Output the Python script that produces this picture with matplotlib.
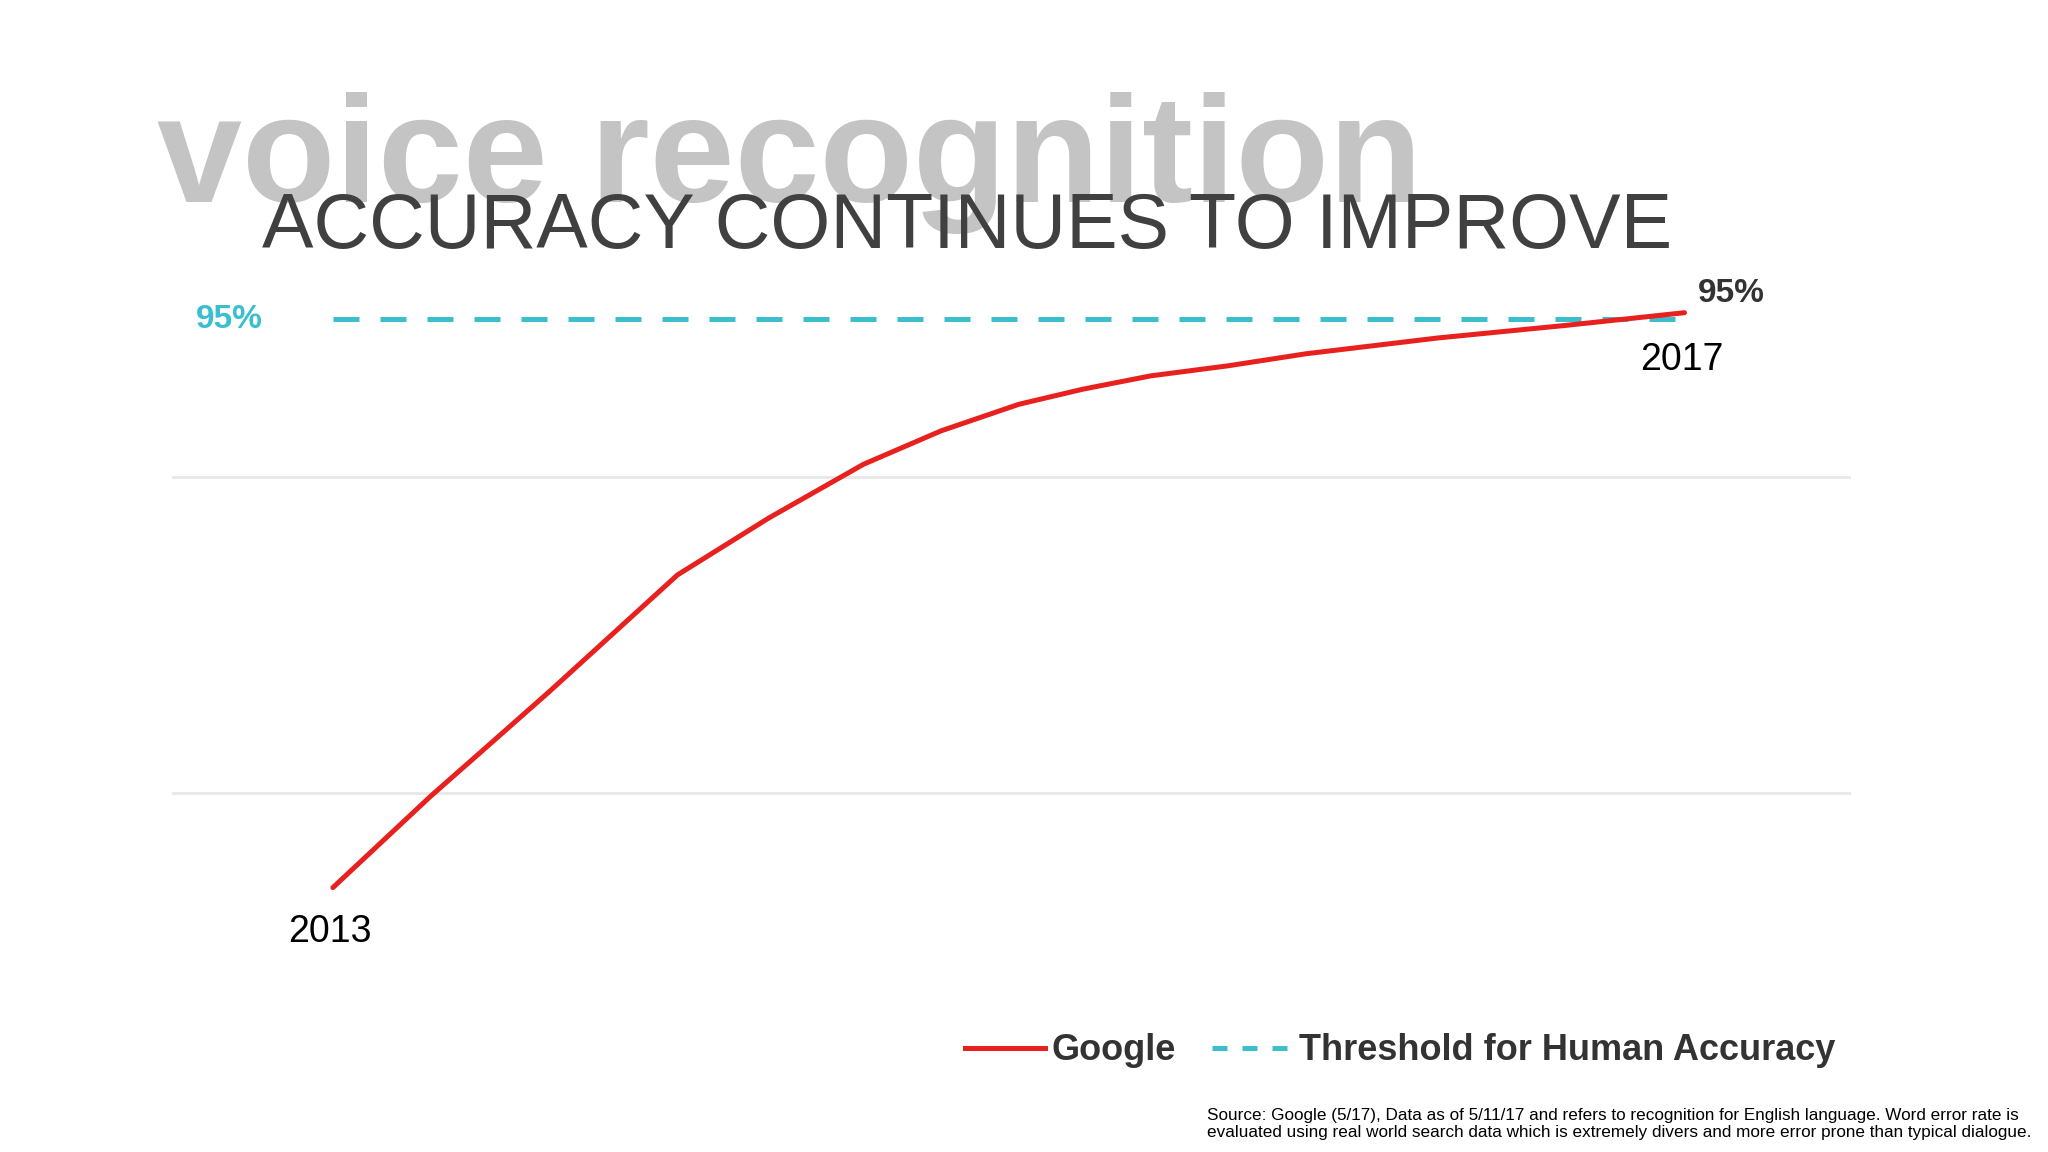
import matplotlib
matplotlib.use("Agg")
import matplotlib.pyplot as plt
from matplotlib.lines import Line2D

years = [2013.0, 2013.29, 2013.46, 2013.64, 2013.83, 2014.02, 2014.29, 2014.57, 2014.80,
         2015.03, 2015.22, 2015.42, 2015.65, 2015.88, 2016.27, 2016.65, 2017.0]
google_acc = [77.0, 79.9, 81.5, 83.2, 85.05, 86.9, 88.7, 90.4, 91.46,
              92.3, 92.78, 93.2, 93.52, 93.9, 94.4, 94.8, 95.2]
threshold_years = [2013, 2017]
threshold = [95, 95]
gridlines = [80, 90]

plt.rcParams['font.family'] = ['Liberation Sans', 'DejaVu Sans']
fig = plt.figure(figsize=(20.48, 11.52), dpi=100)
fig.patch.set_facecolor('white')
ax = fig.add_axes([0.084, 0.2188, 0.82, 0.538])
ax.set_xlim(2012.524, 2017.494)
ax.set_ylim(76.61, 96.23)
for g in gridlines:
    ax.axhline(g, color='#e8e8e8', lw=2, zorder=0)
ax.plot(threshold_years, threshold, color='#3bbfcf', lw=3.6, ls=(0, (5.2, 4.2)))
ax.plot(years, google_acc, color='#e8201e', lw=3.6, solid_capstyle='round', solid_joinstyle='round')
ax.axis('off')

fig.text(157/2048, 1 - 202/1152, 'voice recognition', fontsize=110, fontweight='bold', color='#c4c4c4')
fig.text(262/2048, 1 - 248/1152, 'ACCURACY CONTINUES TO IMPROVE', fontsize=55.5, color='#404040')
fig.text(196/2048, 1 - 319/1152, '95%', fontsize=24, fontweight='bold', color='#3bbfcf', va='center')
fig.text(1698/2048, 1 - 294/1152, '95%', fontsize=24, fontweight='bold', color='#333333', va='center')
fig.text(330/2048, 1 - 932/1152, '2013', fontsize=27, color='black', ha='center', va='center')
fig.text(1682/2048, 1 - 360/1152, '2017', fontsize=27, color='black', ha='center', va='center')

handles = [Line2D([], [], color='#e8201e', lw=3.6),
           Line2D([], [], color='#3bbfcf', lw=3.6, ls=(0, (3, 3)))]
fig.legend(handles, ['Google', 'Threshold for Human Accuracy'], loc='center right',
           bbox_to_anchor=(0.912, 1 - 1051/1152), ncol=2, frameon=False,
           prop={'size': 26, 'weight': 'bold'}, handlelength=2.2, columnspacing=1.0,
           handletextpad=0.2, labelcolor='#333333')

fig.text(1207/2048, 1 - 1124/1152,
         'Source: Google (5/17), Data as of 5/11/17 and refers to recognition for English language. Word error rate is\n'
         'evaluated using real world search data which is extremely divers and more error prone than typical dialogue.',
         fontsize=12.3, color='black', va='center', linespacing=1.2)

fig.savefig('out.png', dpi=100)
